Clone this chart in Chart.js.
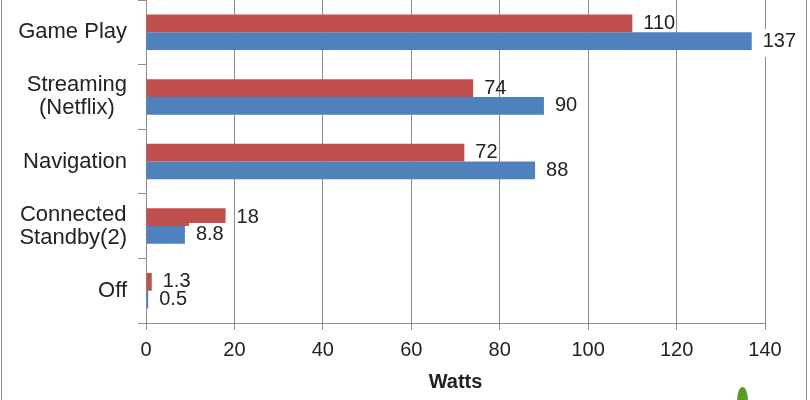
<!DOCTYPE html>
<html>
<head>
<meta charset="utf-8">
<script src="https://cdn.jsdelivr.net/npm/chart.js@4.4.1/dist/chart.umd.min.js"></script>
<style>
  html, body { margin: 0; padding: 0; background: #fff; }
  #wrap { position: relative; width: 810px; height: 400px; overflow: hidden; }
  #frame { position: absolute; left: 1px; top: -5px; width: 804px; height: 420px;
           border-left: 1px solid #8a8a8a; border-right: 1px solid #8a8a8a; pointer-events: none; }
  #leaf { position: absolute; left: 737px; top: 387px; width: 11px; height: 16px;
          background: #5d9b2c; border-radius: 50% 50% 40% 40% / 85% 85% 15% 15%; }
</style>
</head>
<body>
<div id="wrap">
  <canvas id="chart"></canvas>
  <div id="frame"></div>
  <div id="leaf"></div>
</div>
<script>
// categories (multi-line labels as arrays)
var categories = [
  ['Game Play'],
  ['Streaming', '(Netflix)'],
  ['Navigation'],
  ['Connected', 'Standby(2)'],
  ['Off']
];
var redValues = [110, 74, 72, 18, 1.3];
var blueValues = [137, 90, 88, 8.8, 0.5];
var xMin = 0, xMax = 140, xStep = 20;
var axisTitle = 'Watts';

var FONT = '"Liberation Sans", Arial, sans-serif';
var GRID = '#8c8c8c';

// Excel style category labels: lines centred on each other, block right aligned
var categoryLabels = {
  id: 'categoryLabels',
  afterDraw: function (chart) {
    var ctx = chart.ctx;
    var yScale = chart.scales.y;
    ctx.save();
    ctx.font = '22px ' + FONT;
    ctx.fillStyle = '#222';
    ctx.textAlign = 'center';
    ctx.textBaseline = 'middle';
    categories.forEach(function (lines, i) {
      var widest = Math.max.apply(null, lines.map(function (l) { return ctx.measureText(l).width; }));
      var cx = yScale.right - 19 - widest / 2;
      var cy = yScale.getPixelForValue(i);
      lines.forEach(function (line, j) {
        ctx.fillText(line, cx, cy + (j - (lines.length - 1) / 2) * 23);
      });
    });
    ctx.restore();
  }
};

// value labels at the end of each bar (white boxes first, then all the text)
var valueLabels = {
  id: 'valueLabels',
  afterDatasetsDraw: function (chart) {
    var ctx = chart.ctx;
    var items = [];
    ctx.save();
    ctx.font = '20px ' + FONT;
    ctx.textAlign = 'left';
    ctx.textBaseline = 'middle';
    chart.data.datasets.forEach(function (ds, di) {
      var meta = chart.getDatasetMeta(di);
      meta.data.forEach(function (bar, i) {
        var text = String(ds.data[i]);
        items.push({ text: text, x: bar.x + 11, y: bar.y, fill: ds.labelFill,
                     w: ctx.measureText(text).width });
      });
    });
    ctx.fillStyle = '#fff';
    items.forEach(function (it) {
      if (it.fill) ctx.fillRect(it.x - 7, it.y - 12, it.w + 14, 28);
    });
    ctx.fillStyle = '#222';
    items.forEach(function (it) {
      ctx.fillText(it.text, it.x, it.y);
    });
    ctx.restore();
  }
};

var chart = new Chart(document.getElementById('chart'), {
  type: 'bar',
  data: {
    labels: categories,
    datasets: [
      {
        label: 'Red',
        data: redValues,
        backgroundColor: '#C0504D',
        borderWidth: 0,
        categoryPercentage: 0.55,
        barPercentage: 1.0,
        labelFill: false
      },
      {
        label: 'Blue',
        data: blueValues,
        backgroundColor: '#4F81BD',
        borderWidth: 0,
        categoryPercentage: 0.55,
        barPercentage: 1.0,
        labelFill: true
      }
    ]
  },
  options: {
    indexAxis: 'y',
    responsive: true,
    maintainAspectRatio: false,
    animation: false,
    layout: { padding: { top: 0, right: 45, bottom: 0, left: 0 } },
    plugins: {
      legend: { display: false },
      tooltip: { enabled: false },
      title: { display: false }
    },
    scales: {
      x: {
        min: xMin,
        max: xMax,
        ticks: {
          stepSize: xStep,
          color: '#222',
          padding: 8,
          font: { family: FONT, size: 20 }
        },
        grid: {
          color: GRID,
          lineWidth: 1,
          drawTicks: true,
          tickLength: 7
        },
        border: { display: true, color: GRID, width: 1 },
        title: {
          display: true,
          text: axisTitle,
          color: '#222',
          font: { family: FONT, size: 20, weight: 'bold' },
          padding: { top: 4, bottom: 6 }
        },
        afterFit: function (scale) { scale.height = 77; }
      },
      y: {
        ticks: { display: false },
        grid: {
          offset: true,
          color: GRID,
          drawOnChartArea: false,
          drawTicks: true,
          tickLength: 8
        },
        border: { display: true, color: GRID, width: 1 },
        afterFit: function (scale) { scale.width = 146; }
      }
    }
  },
  plugins: [categoryLabels, valueLabels]
});
</script>
</body>
</html>
